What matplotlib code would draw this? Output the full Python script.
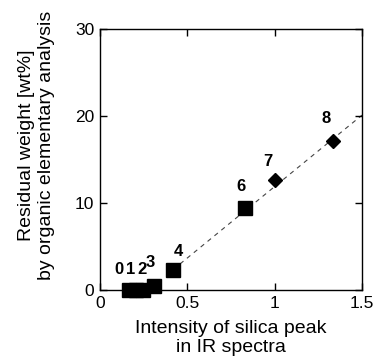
import numpy as np
import matplotlib
matplotlib.use('Agg')
import matplotlib.pyplot as plt

plt.rcParams['font.family'] = ['Liberation Sans', 'DejaVu Sans']

# samples 0-6 measured as squares, 7-8 as diamonds
sq_labels = ['0', '1', '2', '3', '4', '6']
sq_x = [0.166, 0.206, 0.246, 0.31, 0.42, 0.83]
sq_y = [0.0, 0.0, 0.0, 0.45, 2.3, 9.4]

dm_labels = ['7', '8']
dm_x = [1.0, 1.333]
dm_y = [12.6, 17.1]

# dashed trend line
fit_x = [0.38, 1.5]
fit_y = [1.7, 20.1]

# label offsets (points) from each marker
sq_off = [(-7, 14.5), (-3.8, 14.5), (-0.8, 14.5), (-3, 17), (4, 13.5), (-2.5, 15.5)]
dm_off = [(-5, 13.5), (-5, 16)]

fig = plt.figure(figsize=(3.74, 3.58), dpi=100)
ax = fig.add_axes([0.267, 0.19, 0.701, 0.729])

ax.plot(fit_x, fit_y, color='#444444', lw=0.8, ls=(0, (4, 4)), zorder=1)
ax.plot(sq_x, sq_y, 's', color='black', ms=10, clip_on=False, zorder=3)
ax.plot(dm_x, dm_y, 'D', color='black', ms=7, clip_on=False, zorder=3)

for lab, x, y, off in zip(sq_labels, sq_x, sq_y, sq_off):
    ax.annotate(lab, (x, y), xytext=off, textcoords='offset points',
                ha='center', va='center', fontsize=12, fontweight='bold')
for lab, x, y, off in zip(dm_labels, dm_x, dm_y, dm_off):
    ax.annotate(lab, (x, y), xytext=off, textcoords='offset points',
                ha='center', va='center', fontsize=12, fontweight='bold')

ax.set_xlim(0, 1.5)
ax.set_ylim(0, 30)
ax.set_xticks([0, 0.5, 1, 1.5])
ax.set_xticklabels(['0', '0.5', '1', '1.5'])
ax.set_yticks([0, 10, 20, 30])

ax.tick_params(direction='in', length=5, width=1, top=True, right=True,
               labelsize=12.5, pad=4)
for s in ax.spines.values():
    s.set_linewidth(1.0)

ax.set_xlabel('Intensity of silica peak\nin IR spectra', fontsize=14,
              linespacing=1.15, labelpad=7)
ax.set_ylabel('Residual weight [wt%]\nby organic elementary analysis',
              fontsize=14, linespacing=1.2)
ax.yaxis.set_label_coords(-0.173, 0.555)

fig.savefig('out.png', dpi=100)
